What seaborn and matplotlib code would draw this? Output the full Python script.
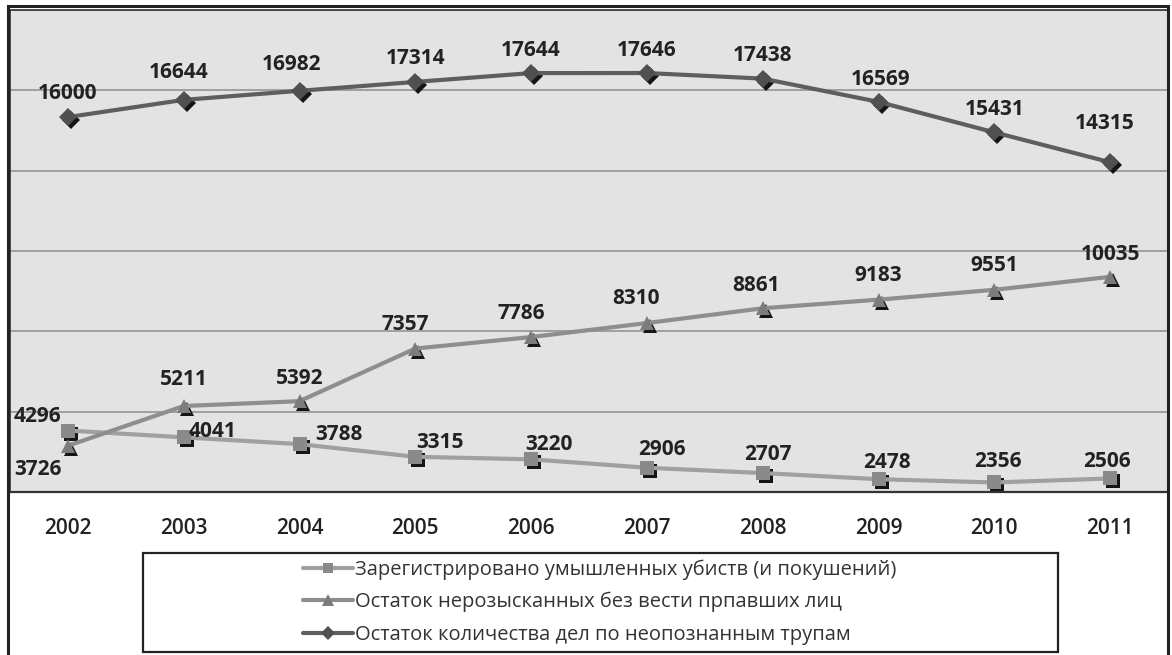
import numpy as np
import pandas as pd
import matplotlib
matplotlib.use("Agg")
import matplotlib.pyplot as plt
import matplotlib.transforms as mtransforms
from matplotlib.patches import Rectangle
import seaborn as sns

# --- Data ---
years = ["2002", "2003", "2004", "2005", "2006", "2007", "2008", "2009", "2010", "2011"]
murders = [4296, 4041, 3788, 3315, 3220, 2906, 2707, 2478, 2356, 2506]
missing = [3726, 5211, 5392, 7357, 7786, 8310, 8861, 9183, 9551, 10035]
bodies = [16000, 16644, 16982, 17314, 17644, 17646, 17438, 16569, 15431, 14315]

names = [
    "Зарегистрировано умышленных убиств (и покушений)",
    "Остаток нерозысканных без вести прпавших лиц",
    "Остаток количества дел по неопознанным трупам",
]

# --- Style ---
sns.set_style("white")
plt.rcParams["font.family"] = ["Open Sans", "DejaVu Sans"]

W, H = 1172, 655
fig = plt.figure(figsize=(W / 100, H / 100), dpi=100)
ax = fig.add_axes([10 / W, 163 / H, 1158 / W, 482 / H])
ax.set_facecolor("#e3e3e3")

x = np.arange(len(years))
shadow_tr = mtransforms.offset_copy(ax.transData, fig=fig, x=3, y=-3, units="dots")

series = [
    (murders, names[0], "s", 9.5, "#a0a0a0", "#8a8a8a"),
    (missing, names[1], "^", 10.5, "#8e8e8e", "#7c7c7c"),
    (bodies, names[2], "D", 9, "#5e5e5e", "#505050"),
]

# label offsets (pixels) per point
offsets = [
    [(-30, 17), (29, 9), (39, 13), (25, 17), (18, 18), (15, 21), (5, 22), (8, 20), (4, 24), (-3, 20)],
    [(-30, -21), (0, 30), (0, 26), (-10, 27), (-10, 27), (-11, 28), (-7, 26), (0, 27), (0, 27), (0, 25)],
    [(0, 27), (-5, 30), (-8, 29), (0, 26), (0, 26), (0, 26), (0, 26), (2, 25), (0, 26), (-5, 42)],
]
shift = -3  # visual centre of digits sits above bbox centre

handles = []
for (vals, name, mk, ms, lc, mc), offs in zip(series, offsets):
    ax.plot(x, vals, ls="none", marker=mk, ms=ms, color="#151515", mew=0,
            transform=shadow_tr, zorder=2)
    sns.lineplot(x=x, y=vals, ax=ax, color=lc, linewidth=3, zorder=3)
    line = ax.lines[-1]
    line.set_marker(mk)
    line.set_markersize(ms)
    line.set_markerfacecolor(mc)
    line.set_markeredgewidth(0)
    handles.append(line)
    for xi, v, (dx, dy) in zip(x, vals, offs):
        ax.annotate(f"{v}", (xi, v), xytext=(dx, dy + shift), textcoords="offset pixels",
                    ha="center", va="center", fontsize=15, fontweight="bold",
                    color="#222222", zorder=5)

# --- Axes ---
ax.set_xlim(-0.5, len(years) - 0.5)
ax.set_ylim(2000, 20000)
ax.set_yticks(np.arange(2000, 20001, 3000))
ax.yaxis.grid(True, color="#9a9a9a", linewidth=1.3)
ax.tick_params(axis="y", left=False, labelleft=False)
ax.set_xticks(x)
ax.set_xticklabels(years, fontsize=15, fontweight="semibold", color="#222222")
ax.tick_params(axis="x", which="major", length=0, pad=19)
ax.set_xticks(np.arange(0.5, len(years) - 0.5), minor=True)
ax.tick_params(axis="x", which="minor", length=7, width=1.3, color="#222222", direction="out")
for s in ax.spines.values():
    s.set_color("#333333")
    s.set_linewidth(1.2)
ax.spines["bottom"].set_linewidth(1.6)

# --- Outer chart frame ---
fig.add_artist(Rectangle((8 / W, -0.05), 1160 / W, 1.05 - 6 / H, transform=fig.transFigure,
                         fill=False, edgecolor="#222222", linewidth=2.2))

# --- Legend box ---
fig.add_artist(Rectangle((143 / W, (H - 652) / H), 915 / W, 99 / H, transform=fig.transFigure,
                         fill=False, edgecolor="#222222", linewidth=1.6))
fig.legend(handles, names, loc="center", bbox_to_anchor=(600 / W, (H - 602) / H),
           bbox_transform=fig.transFigure, frameon=False, fontsize=14.5,
           handlelength=2.5, handletextpad=0.1, labelspacing=0.6, markerscale=0.8,
           labelcolor="#333333")

fig.savefig("out.png", dpi=100)
